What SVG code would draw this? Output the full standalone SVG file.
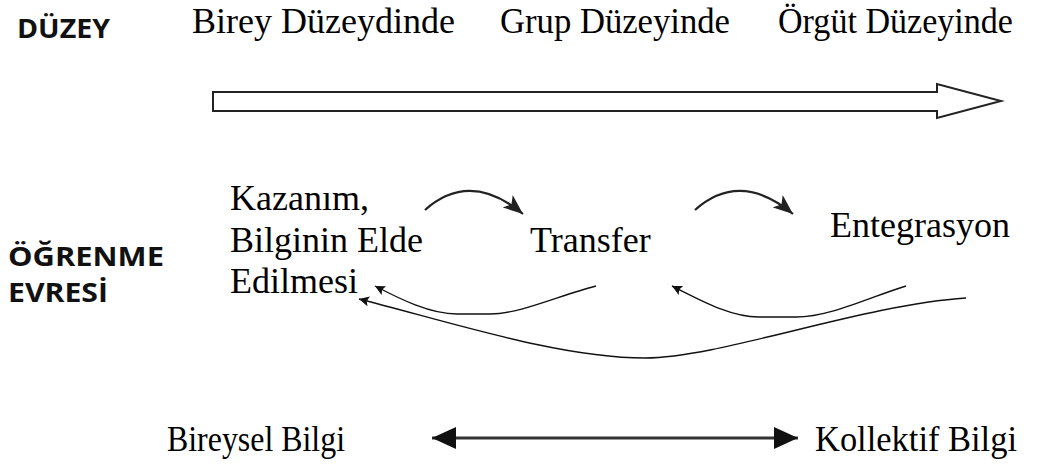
<svg xmlns="http://www.w3.org/2000/svg" width="1042" height="465" viewBox="0 0 1042 465">
<defs>
<style>
.serif{font-family:"Liberation Serif","Times New Roman",serif;fill:#000;}
.top{font-size:36px;}
.mid{font-size:36px;}
.bot{font-size:36px;}
.head{font-family:"Open Sans","Liberation Sans",sans-serif;font-weight:bold;font-size:26px;fill:#111;}
.curve{fill:none;stroke:#222;stroke-width:2.2;}
.thin{fill:none;stroke:#111;stroke-width:1.4;}
</style>
<marker id="bigHead" markerUnits="userSpaceOnUse" markerWidth="22" markerHeight="16" refX="20" refY="8" orient="auto">
<path d="M0,0 L20,8 L0,16 L5,8 z" fill="#222"/>
</marker>
<marker id="smallHead" markerUnits="userSpaceOnUse" markerWidth="12" markerHeight="10" refX="10" refY="5" orient="auto">
<path d="M0,0 L10,5 L0,10 L2,5 z" fill="#111"/>
</marker>
<marker id="dblEnd" markerUnits="userSpaceOnUse" markerWidth="26" markerHeight="24" refX="24" refY="12" orient="auto">
<path d="M0,1 L24,12 L0,23 z" fill="#111"/>
</marker>
<marker id="dblStart" markerUnits="userSpaceOnUse" markerWidth="26" markerHeight="24" refX="0" refY="12" orient="auto">
<path d="M24,1 L0,12 L24,23 z" fill="#111"/>
</marker>
</defs>
<rect width="1042" height="465" fill="#fff"/>

<g id="label-duzey"><text class="head" x="17" y="38" font-size="28" textLength="93" lengthAdjust="spacingAndGlyphs">DÜZEY</text></g>
<g id="label-ogrenme">
<text class="head" x="8" y="266" textLength="156" lengthAdjust="spacingAndGlyphs">ÖĞRENME</text>
<text class="head" x="8" y="302" textLength="100" lengthAdjust="spacingAndGlyphs">EVRESİ</text>
</g>

<g id="level-birey"><text class="serif top" x="192" y="33" textLength="263" lengthAdjust="spacingAndGlyphs">Birey Düzeydinde</text></g>
<g id="level-grup"><text class="serif top" x="500" y="33" textLength="230" lengthAdjust="spacingAndGlyphs">Grup Düzeyinde</text></g>
<g id="level-orgut"><text class="serif top" x="778" y="33" textLength="235" lengthAdjust="spacingAndGlyphs">Örgüt Düzeyinde</text></g>

<g id="level-arrow">
<polygon points="213,92 937,92 937,84 1001,101 937,118 937,111 213,111" fill="#fff" stroke="#222" stroke-width="2"/>
</g>

<g id="node-kazanim">
<text class="serif mid" x="230" y="210">Kazanım,</text>
<text class="serif mid" x="230" y="252">Bilginin Elde</text>
<text class="serif mid" x="230" y="293">Edilmesi</text>
</g>
<g id="node-transfer"><text class="serif mid" x="530" y="252">Transfer</text></g>
<g id="node-entegrasyon"><text class="serif mid" x="830" y="237">Entegrasyon</text></g>

<g id="connectors">
<path class="curve" d="M425,210 Q470,170 523,214" marker-end="url(#bigHead)"/>
<path class="curve" d="M695,210 Q740,170 793,214" marker-end="url(#bigHead)"/>
<path class="thin" d="M596,286 C560,295 520,314 490,314 L457,314 C430,314 400,299 375,286" marker-end="url(#smallHead)"/>
<path class="thin" d="M906,286 C870,297 830,317 796,317 L759,317 C730,317 700,300 672,286" marker-end="url(#smallHead)"/>
<path class="thin" d="M966,298 C860,305 720,358 645,358 C560,358 450,322 359,299" marker-end="url(#smallHead)"/>
<line x1="432" y1="438" x2="798" y2="438" stroke="#333" stroke-width="3" marker-start="url(#dblStart)" marker-end="url(#dblEnd)"/>
</g>

<g id="node-bireysel"><text class="serif bot" x="167" y="451" textLength="178" lengthAdjust="spacingAndGlyphs">Bireysel Bilgi</text></g>
<g id="node-kollektif"><text class="serif bot" x="815" y="451" textLength="202" lengthAdjust="spacingAndGlyphs">Kollektif Bilgi</text></g>
</svg>
